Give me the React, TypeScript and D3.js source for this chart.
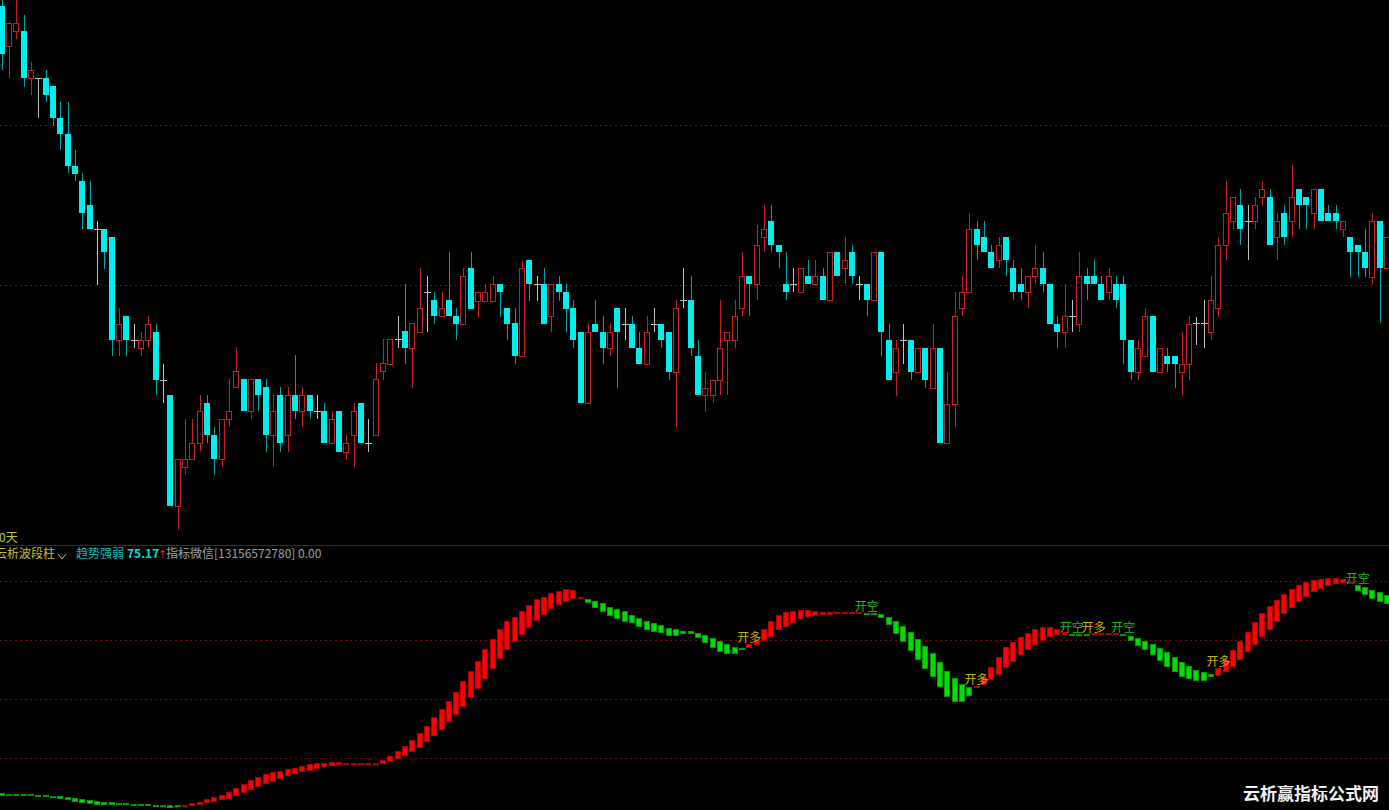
import React, { useEffect } from 'react';
import * as d3 from 'd3';

const WIDTH = 1389;
const HEIGHT = 810;

// ---- main panel: daily candles (price units) ----
const opens = [
  5.94, 5.54, 5.69, 5.69, 5.22, 5.22, 5.22, 5.14, 4.82, 4.66,
  4.34, 4.19, 3.95, 3.71, 3.71, 3.63, 2.60, 2.84, 2.60, 2.52,
  2.60, 2.68, 2.20, 2.05, 0.94, 1.33, 1.41, 1.57, 1.97, 1.65,
  1.41, 1.81, 2.13, 2.21, 1.89, 2.21, 2.13, 1.65, 2.05, 1.65,
  2.05, 1.89, 2.05, 1.89, 1.89, 1.57, 1.89, 1.48, 1.65, 1.97,
  1.57, 1.65, 2.29, 2.36, 2.61, 2.69, 2.52, 2.68, 3.08, 3.00,
  2.84, 3.00, 2.84, 2.76, 3.32, 2.99, 2.99, 2.99, 3.16, 2.92,
  2.77, 2.44, 3.40, 3.16, 3.16, 2.84, 3.16, 3.08, 2.92, 2.68,
  1.97, 2.76, 2.68, 2.52, 2.92, 2.76, 2.76, 2.52, 2.36, 2.76,
  2.76, 2.68, 2.28, 3.00, 3.00, 2.44, 2.05, 2.05, 2.20, 2.60,
  2.60, 2.92, 3.24, 3.16, 3.63, 3.79, 3.55, 3.16, 3.16, 3.08,
  3.24, 3.16, 3.24, 3.00, 3.48, 3.32, 3.48, 3.16, 3.16, 3.00,
  3.48, 2.60, 2.28, 2.60, 2.60, 2.28, 2.52, 2.12, 2.52, 1.57,
  1.96, 2.92, 3.08, 3.71, 3.63, 3.48, 3.40, 3.63, 3.32, 3.16,
  3.08, 3.24, 3.32, 3.16, 2.76, 2.68, 2.84, 2.76, 3.24, 3.24,
  3.16, 3.08, 3.16, 3.16, 2.60, 2.28, 2.44, 2.84, 2.28, 2.44,
  2.44, 2.28, 2.36, 2.77, 2.77, 2.68, 2.92, 3.55, 3.79, 3.95,
  3.79, 3.79, 4.03, 4.03, 3.63, 3.87, 3.79, 4.11, 4.03, 3.87,
  4.11, 3.87, 3.87, 3.71, 3.63, 3.55, 3.48, 3.23, 3.79, 3.32,
];
const highs = [
  6.00, 5.78, 6.00, 5.85, 5.38, 5.22, 5.30, 5.14, 4.98, 4.98,
  4.50, 4.27, 4.19, 3.79, 3.71, 3.63, 2.92, 2.84, 2.76, 2.68,
  2.84, 2.76, 2.36, 2.05, 1.41, 1.81, 1.81, 2.05, 2.05, 1.73,
  1.81, 2.21, 2.53, 2.21, 2.21, 2.21, 2.21, 2.05, 2.13, 2.13,
  2.45, 2.13, 2.05, 2.05, 1.97, 1.89, 1.89, 1.65, 1.97, 1.97,
  1.81, 2.37, 2.61, 2.61, 2.84, 3.16, 2.77, 3.32, 3.24, 3.08,
  3.08, 3.48, 2.92, 3.32, 3.48, 3.08, 3.16, 3.24, 3.16, 2.92,
  2.92, 3.40, 3.40, 3.24, 3.32, 3.16, 3.24, 3.16, 3.00, 2.68,
  2.77, 3.00, 2.84, 2.77, 2.92, 2.92, 2.84, 2.68, 2.84, 2.92,
  2.76, 2.68, 3.00, 3.32, 3.24, 2.60, 2.28, 2.20, 3.00, 2.68,
  3.00, 3.48, 3.24, 3.75, 3.95, 3.95, 3.55, 3.48, 3.32, 3.32,
  3.40, 3.40, 3.32, 3.48, 3.48, 3.63, 3.55, 3.24, 3.16, 3.48,
  3.48, 2.76, 2.60, 2.76, 2.60, 2.52, 2.52, 2.76, 2.52, 2.28,
  3.08, 3.24, 3.87, 3.79, 3.79, 3.55, 3.63, 3.63, 3.40, 3.32,
  3.24, 3.55, 3.48, 3.16, 2.84, 3.16, 3.00, 3.48, 3.32, 3.40,
  3.24, 3.32, 3.24, 3.24, 2.60, 2.60, 2.92, 2.84, 2.52, 2.52,
  2.44, 2.68, 2.84, 2.83, 3.00, 3.24, 3.63, 4.19, 4.03, 4.11,
  3.95, 4.03, 4.19, 4.11, 3.87, 3.95, 4.35, 4.11, 4.03, 4.11,
  4.11, 3.95, 3.95, 3.79, 3.63, 3.55, 3.71, 3.87, 3.79, 3.63,
];
const lows = [
  5.30, 5.22, 5.61, 5.13, 5.05, 4.82, 4.98, 4.74, 4.50, 4.27,
  4.19, 3.71, 3.71, 3.15, 3.31, 2.44, 2.44, 2.44, 2.52, 2.44,
  2.52, 2.05, 1.97, 0.94, 0.70, 1.25, 1.41, 1.49, 1.57, 1.25,
  1.33, 1.73, 2.13, 1.89, 1.81, 1.89, 1.48, 1.33, 1.48, 1.48,
  1.81, 1.73, 1.81, 1.81, 1.57, 1.57, 1.48, 1.41, 1.33, 1.57,
  1.48, 1.65, 2.20, 2.36, 2.52, 2.36, 2.12, 2.68, 2.68, 2.76,
  2.84, 2.84, 2.60, 2.76, 2.91, 2.83, 2.99, 2.99, 2.83, 2.60,
  2.36, 2.44, 2.99, 2.99, 2.76, 2.68, 2.99, 2.68, 2.52, 1.97,
  1.97, 2.68, 2.36, 2.44, 2.12, 2.60, 2.52, 2.36, 2.36, 2.68,
  2.52, 2.20, 1.73, 2.92, 2.44, 2.05, 1.88, 1.97, 2.05, 2.05,
  2.52, 2.84, 2.84, 3.00, 3.48, 3.48, 3.32, 3.00, 3.08, 3.08,
  3.16, 3.16, 3.00, 3.00, 3.24, 3.16, 3.16, 3.00, 2.84, 3.00,
  2.44, 2.20, 2.04, 2.36, 2.20, 2.28, 2.12, 2.12, 1.57, 1.57,
  1.73, 2.84, 3.08, 3.40, 3.48, 3.32, 3.32, 3.24, 3.00, 3.00,
  2.92, 3.16, 3.08, 2.76, 2.52, 2.52, 2.68, 2.68, 3.00, 3.16,
  3.00, 3.00, 2.92, 2.36, 2.20, 2.20, 2.44, 2.28, 2.28, 2.28,
  2.12, 2.04, 2.20, 2.55, 2.52, 2.60, 2.83, 3.40, 3.71, 3.55,
  3.40, 3.71, 3.95, 3.55, 3.40, 3.55, 3.63, 3.71, 3.71, 3.71,
  3.79, 3.79, 3.71, 3.63, 3.23, 3.23, 3.23, 3.15, 2.77, 3.32,
];
const closes = [
  5.46, 5.77, 5.77, 5.22, 5.30, 5.22, 5.05, 4.82, 4.66, 4.34,
  4.26, 3.87, 3.71, 3.71, 3.48, 2.60, 2.76, 2.60, 2.60, 2.60,
  2.76, 2.20, 2.20, 0.94, 1.41, 1.41, 1.57, 1.89, 1.65, 1.41,
  1.81, 1.89, 2.29, 1.89, 2.21, 2.05, 1.65, 1.89, 1.57, 2.05,
  1.89, 2.05, 1.89, 1.89, 1.57, 1.81, 1.48, 1.57, 1.89, 1.57,
  1.57, 2.21, 2.37, 2.61, 2.61, 2.52, 2.77, 2.92, 3.08, 2.84,
  2.92, 2.84, 2.76, 3.24, 2.91, 3.08, 3.08, 3.16, 3.08, 2.76,
  2.44, 3.32, 3.16, 3.16, 2.76, 3.16, 3.08, 2.91, 2.60, 1.97,
  2.68, 2.68, 2.52, 2.68, 2.68, 2.76, 2.52, 2.36, 2.68, 2.76,
  2.60, 2.28, 2.92, 3.00, 2.52, 2.05, 2.12, 2.20, 2.52, 2.68,
  2.84, 3.24, 3.16, 3.55, 3.71, 3.55, 3.48, 3.08, 3.16, 3.32,
  3.16, 3.24, 3.00, 3.48, 3.24, 3.40, 3.24, 3.16, 3.00, 3.48,
  2.68, 2.20, 2.52, 2.60, 2.28, 2.52, 2.20, 2.52, 1.57, 1.96,
  2.84, 3.08, 3.71, 3.55, 3.48, 3.32, 3.55, 3.40, 3.08, 3.08,
  3.24, 3.32, 3.16, 2.76, 2.68, 2.84, 2.84, 3.24, 3.16, 3.16,
  3.00, 3.24, 3.00, 2.60, 2.28, 2.52, 2.84, 2.28, 2.52, 2.36,
  2.36, 2.36, 2.76, 2.77, 2.77, 3.00, 3.55, 3.87, 4.03, 3.71,
  3.79, 3.95, 4.11, 3.55, 3.79, 3.63, 4.03, 3.95, 3.95, 4.11,
  3.79, 3.79, 3.79, 3.79, 3.48, 3.48, 3.32, 3.79, 3.32, 3.63,
];
const mainGridPrices = [4.75, 3.15];

// ---- lower panel: 云析波段柱 (fast / slow wave lines) ----
const waveFast = [
  21.3, 21.3, 22, 21.7, 21.3, 20.3, 19.7, 19.3, 18, 16.7,
  15.3, 14, 12.7, 12, 12, 12, 12, 11.7, 11.3, 11,
  10.7, 10.7, 10, 9.3, 10.3, 11.5, 13.7, 15.3, 18, 19.7,
  22, 24.7, 28.7, 33, 36.7, 39.7, 42.7, 44.7, 46, 48,
  49.3, 51.3, 53, 54, 54.3, 55, 55, 54, 54, 54,
  54, 54, 57, 61, 66, 71, 77, 84, 91.3, 99.7,
  108, 116.3, 125, 135.7, 145.7, 156.3, 167.7, 178, 187.7, 195.7,
  199.7, 205.7, 211.7, 217.7, 220.3, 223.7, 226, 228, 227, 220,
  214, 209.3, 204.7, 201, 197.7, 195.3, 193.7, 189.7, 187, 185.3,
  183.7, 181.3, 181, 182.7, 182.7, 179.3, 174.3, 168.7, 164.7, 163,
  163, 166.7, 172.7, 177, 188, 195.7, 202, 205.3, 206.3, 207,
  207, 206, 205.3, 205, 204.3, 204.7, 205.3, 205.3, 202.3, 202.3,
  199.3, 191.7, 183, 175, 165.7, 157, 148.3, 140.3, 129.7, 119.7,
  115, 115, 121.3, 131, 140.3, 150.3, 160.3, 169.7, 175.3, 180.3,
  184.3, 187.7, 189.7, 189.7, 187.7, 185.3, 181.7, 181.7, 182, 183.3,
  183.7, 184, 184, 181.7, 176.3, 171, 167, 161.7, 156.3, 150,
  145, 140, 138, 136, 136, 140, 149, 157, 167, 176,
  185, 195, 204, 211, 217, 223, 228, 232, 235, 237,
  238, 239, 239, 238, 235, 226, 222, 218, 215, 213,
];
const waveSlow = [
  23.7, 23.3, 23, 23, 23, 22, 21.7, 21.3, 21, 20,
  19, 18, 17, 16, 15.3, 14.7, 14, 13.7, 13.3, 13,
  12.7, 12.3, 12, 11.7, 11.7, 11, 11.3, 12.3, 13.7, 15,
  16.7, 18, 21, 23.7, 27, 30.3, 33, 35.3, 38, 40.7,
  42.7, 44.7, 46, 48, 49.7, 51, 51.7, 52, 52, 52.3,
  52.3, 52.7, 53.3, 55.3, 57.7, 61, 65, 69.3, 75, 81,
  87.3, 94.7, 102, 110, 119, 128, 137.7, 147.7, 157.7, 167,
  175, 182, 189.3, 196, 202, 207.7, 212, 215.3, 218, 219,
  218.3, 216, 213.7, 210.3, 207.7, 206, 202.3, 199.3, 196.3, 193.7,
  191.7, 189.3, 187.7, 186.3, 185.7, 184.3, 182.3, 178.7, 176, 173,
  170.3, 169.3, 169.3, 172, 176.3, 180.3, 186.7, 190.3, 194.3, 197.7,
  200.3, 201, 201.7, 202.3, 203, 203.3, 203.7, 203.7, 204, 203.7,
  203, 200.3, 196.3, 191, 185, 178, 171, 163.7, 155, 146.3,
  139, 133, 130.3, 129.7, 132, 137, 142.3, 149, 155.3, 161.7,
  167, 172, 176.3, 179.7, 181.7, 182.3, 183, 182.7, 183, 182.3,
  182.3, 182.7, 182.7, 183, 181, 178.7, 176, 173, 169, 165,
  160, 155, 151, 147, 145, 143, 141, 145, 150, 157,
  165, 172, 180, 187, 195, 203, 209, 215, 220, 225,
  228, 231, 233, 234, 234, 232, 230, 227, 225, 222,
];
const subGridValues = [59, 118, 177, 236];

const signalIdx = [102, 118, 133, 146, 149, 153, 166, 185];
const signalText = ['开多', '开空', '开多', '开空', '开多', '开空', '开多', '开空'];

const RED = '#c42222';
const CYAN = '#00eeee';
const TEAL = '#00a4a4';
const DOJI = '#c0c0c0';
const FONT = '"Noto Sans CJK SC", "Noto Sans", sans-serif';

export default function App() {
  useEffect(() => {
    document.body.style.margin = '0';
    document.body.style.background = '#000';
    document.body.style.overflow = 'hidden';
  }, []);

  const n = opens.length;
  const x = d3.scaleLinear().domain([0, n - 1]).range([1.7, 1.7 + 7.33 * (n - 1)]);
  const yMain = d3.scaleLinear().domain([0.55, 6.0]).range([545, 0]);
  const ySub = d3.scaleLinear().domain([0, 236]).range([817, 581]);

  const candles = d3.range(n).map((i) => {
    const o = opens[i], c = closes[i], h = highs[i], l = lows[i];
    const r = Math.round(x(i));
    const yo = Math.round(yMain(o));
    const yc = Math.round(yMain(c));
    const yh = Math.round(yMain(h));
    const yl = Math.round(yMain(l));
    const top = Math.min(yo, yc);
    const bot = Math.max(yo, yc);
    if (c > o) {
      return (
        <g key={i}>
          {yh < top && <line x1={r + 0.5} x2={r + 0.5} y1={yh} y2={top} stroke={RED} />}
          {yl > bot && <line x1={r + 0.5} x2={r + 0.5} y1={bot + 1} y2={yl} stroke={RED} />}
          <rect x={r - 2.5} y={top + 0.5} width={5} height={Math.max(bot - top, 1)} fill="#000" stroke={RED} />
        </g>
      );
    }
    if (c < o) {
      return (
        <g key={i}>
          <line x1={r + 0.5} x2={r + 0.5} y1={yh} y2={yl} stroke={TEAL} />
          <rect x={r - 3} y={top} width={6} height={Math.max(bot - top, 1)} fill={CYAN} />
        </g>
      );
    }
    return (
      <g key={i}>
        <line x1={r + 0.5} x2={r + 0.5} y1={yh} y2={yl} stroke={DOJI} />
        <line x1={r - 3} x2={r + 4} y1={yo + 0.5} y2={yo + 0.5} stroke={DOJI} />
      </g>
    );
  });

  const bars = d3.range(n).map((i) => {
    const f = waveFast[i], s = waveSlow[i];
    const up = f >= s;
    let y1 = ySub(Math.max(f, s));
    let y2 = ySub(Math.min(f, s));
    if (y2 - y1 < 2) {
      const m = (y1 + y2) / 2;
      y1 = m - 1;
      y2 = m + 1;
    }
    const r = Math.round(x(i));
    return (
      <rect
        key={i}
        x={r - 2.5}
        y={y1 + 0.5}
        width={5}
        height={Math.max(y2 - y1 - 1, 0.5)}
        fill={up ? '#ff0000' : '#00dd00'}
        stroke={up ? '#b00000' : '#009a00'}
      />
    );
  });

  const signals = signalIdx.map((idx, k) => {
    const topY = ySub(Math.max(waveFast[idx], waveSlow[idx]));
    const isLong = signalText[k] === '开多';
    return (
      <text
        key={k}
        x={x(idx)}
        y={topY - 2}
        textAnchor="middle"
        fontSize={12}
        fontFamily={FONT}
        fill={isLong ? '#c8b400' : '#1fb81f'}
      >
        {signalText[k]}
      </text>
    );
  });

  return (
    <svg
      width={WIDTH}
      height={HEIGHT}
      style={{ position: 'absolute', left: 0, top: 0, display: 'block', background: '#000' }}
    >
      <rect x={0} y={0} width={WIDTH} height={HEIGHT} fill="#000" />
      {mainGridPrices.map((p, k) => (
        <line
          key={k}
          x1={0}
          x2={WIDTH}
          y1={Math.round(yMain(p)) + 0.5}
          y2={Math.round(yMain(p)) + 0.5}
          stroke="#7a0c0c"
          strokeDasharray="2 3"
        />
      ))}
      {subGridValues.map((v, k) => (
        <line
          key={k}
          x1={0}
          x2={WIDTH}
          y1={Math.round(ySub(v)) + 0.5}
          y2={Math.round(ySub(v)) + 0.5}
          stroke="#7a0c0c"
          strokeDasharray="2 3"
        />
      ))}
      <g shapeRendering="crispEdges">{candles}</g>
      <text x={-1} y={542} fontSize={12} fontFamily={FONT} fill="#c0c040">0天</text>
      <line x1={0} x2={WIDTH} y1={545.5} y2={545.5} stroke="#9a0000" />
      <text x={-5} y={558} fontSize={12} fontFamily={FONT} fill="#c0c030">云析波段柱</text>
      <polyline points="58,554 62,559 66,554" fill="none" stroke="#c0c030" strokeWidth={1} />
      <text x={76} y={558} fontSize={12} fontFamily={FONT} fill="#00c0c0">趋势强弱</text>
      <text x={127} y={558} fontSize={12} fontFamily={FONT} fontWeight="bold" fill="#00dede">75.17</text>
      <text x={158} y={558} fontSize={11} fontFamily='"DejaVu Sans", sans-serif' fill="#e02020">↑</text>
      <text x={166} y={558} fontSize={12} fontFamily={FONT} fill="#a0a0a0">指标微信[13156572780] 0.00</text>
      <g shapeRendering="crispEdges">{bars}</g>
      {signals}
      <text x={1243} y={800} fontSize={17} fontWeight="bold" fontFamily={FONT} fill="#f4f4f4">云析赢指标公式网</text>
    </svg>
  );
}
